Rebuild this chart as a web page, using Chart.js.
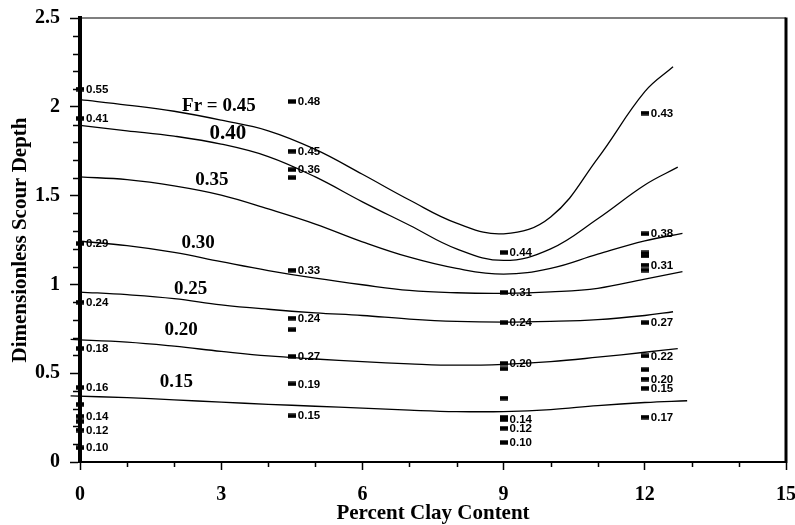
<!DOCTYPE html>
<html>
<head>
<meta charset="utf-8">
<script src="https://cdn.jsdelivr.net/npm/chart.js@4.4.1/dist/chart.umd.min.js"></script>
<style>
html,body{margin:0;padding:0;background:#fff;}
canvas{display:block;}
</style>
</head>
<body>
<canvas id="c" width="795" height="525"></canvas>
<script>
// Measured scour depths, grouped by clay content; each run is tagged with its Froude number
const clayLevels = [0, 4.5, 9, 12];
const depthAtClay0  = [2.10, 1.935, 1.23, 0.90, 0.64, 0.42, 0.325, 0.258, 0.229, 0.18, 0.08];
const frAtClay0     = ['0.55', '0.41', '0.29', '0.24', '0.18', '0.16', '', '0.14', '', '0.12', '0.10'];
const depthAtClay45 = [2.03, 1.75, 1.646, 1.601, 1.08, 0.81, 0.745, 0.595, 0.44, 0.26];
const frAtClay45    = ['0.48', '0.45', '0.36', '', '0.33', '0.24', '', '0.27', '0.19', '0.15'];
const depthAtClay9  = [1.18, 0.955, 0.785, 0.555, 0.525, 0.36, 0.252, 0.238, 0.19, 0.11];
const frAtClay9     = ['0.44', '0.31', '0.24', '0.20', '', '', '', '0.14', '0.12', '0.10'];
const depthAtClay12 = [1.965, 1.285, 1.177, 1.16, 1.109, 1.081, 0.785, 0.597, 0.52, 0.467, 0.415, 0.253];
const frAtClay12    = ['0.43', '0.38', '', '', '0.31', '', '0.27', '0.22', '', '0.20', '0.15', '0.17'];

// Constant-Froude-number curves
const curveNames = ['Fr = 0.45', '0.40', '0.35', '0.30', '0.25', '0.20', '0.15'];
const fr45Clay  = [0, 1, 2, 3, 4, 5, 6, 7, 8, 9, 10, 11, 12, 12.6];
const fr45Depth = [2.04, 2.01, 1.975, 1.925, 1.865, 1.76, 1.62, 1.475, 1.345, 1.285, 1.38, 1.71, 2.085, 2.225];
const fr40Clay  = [0, 1, 2, 3, 4, 5, 6, 7, 8, 9, 10, 11, 12, 12.7];
const fr40Depth = [1.895, 1.865, 1.835, 1.79, 1.72, 1.605, 1.465, 1.333, 1.20, 1.135, 1.20, 1.37, 1.56, 1.66];
const fr35Clay  = [0, 1, 2, 3, 4, 5, 6, 7, 8, 9, 10, 11, 12, 12.8];
const fr35Depth = [1.605, 1.59, 1.555, 1.503, 1.425, 1.34, 1.24, 1.153, 1.09, 1.058, 1.09, 1.17, 1.245, 1.287];
const fr30Clay  = [0, 1, 2, 3, 4, 5, 6, 7, 8, 9, 10, 11, 12, 12.8];
const fr30Depth = [1.243, 1.218, 1.18, 1.128, 1.078, 1.035, 0.998, 0.966, 0.953, 0.95, 0.958, 0.978, 1.03, 1.072];
const fr25Clay  = [0, 1, 2, 3, 4, 5, 6, 7, 8, 9, 10, 11, 12, 12.6];
const fr25Depth = [0.957, 0.942, 0.92, 0.885, 0.86, 0.84, 0.825, 0.805, 0.792, 0.788, 0.792, 0.802, 0.825, 0.846];
const fr20Clay  = [-0.2, 1, 2, 3, 4, 5, 6, 7, 8, 9, 10, 11, 12, 12.7];
const fr20Depth = [0.69, 0.675, 0.652, 0.623, 0.597, 0.58, 0.565, 0.553, 0.545, 0.55, 0.565, 0.59, 0.618, 0.638];
const fr15Clay  = [-0.2, 1, 2, 3, 4, 5, 6, 7, 8, 9, 10, 11, 12, 12.9];
const fr15Depth = [0.372, 0.362, 0.35, 0.337, 0.325, 0.314, 0.303, 0.292, 0.284, 0.284, 0.295, 0.318, 0.335, 0.345];

const xTickStep = 3;
const yTickStep = 0.5;

// ---- build chart structures ----
const depthGroups = [depthAtClay0, depthAtClay45, depthAtClay9, depthAtClay12];
const frGroups = [frAtClay0, frAtClay45, frAtClay9, frAtClay12];
const runPoints = [];
const runLabels = [];
clayLevels.forEach((c, g) => {
  depthGroups[g].forEach((d, i) => {
    runPoints.push({ x: c, y: d });
    runLabels.push(frGroups[g][i]);
  });
});

const curveClay = [fr45Clay, fr40Clay, fr35Clay, fr30Clay, fr25Clay, fr20Clay, fr15Clay];
const curveDepth = [fr45Depth, fr40Depth, fr35Depth, fr30Depth, fr25Depth, fr20Depth, fr15Depth];

const curveSets = curveNames.map((name, k) => ({
  label: name,
  data: curveClay[k].map((c, i) => ({ x: c, y: curveDepth[k][i] })),
  showLine: true,
  borderColor: '#000',
  borderWidth: 1.3,
  pointRadius: 0,
  tension: 0.4,
  clip: { left: 12, right: 0, top: 0, bottom: 0 },
  order: 2
}));

// where each curve's name is written (data units)
const curveNameAnchor = [
  { x: 2.95, y: 2.003, size: 19 },
  { x: 3.14, y: 1.849, size: 21 },
  { x: 2.80, y: 1.590, size: 19 },
  { x: 2.51, y: 1.235, size: 19 },
  { x: 2.35, y: 0.972, size: 19 },
  { x: 2.15, y: 0.742, size: 19 },
  { x: 2.05, y: 0.450, size: 19 }
];

const serif = '"Liberation Serif", "Times New Roman", Times, serif';
const sans = '"Liberation Sans", Arial, Helvetica, sans-serif';

// small solid bar used as the run marker
const marker = document.createElement('canvas');
marker.width = 8;
marker.height = 5;
(function () {
  const m = marker.getContext('2d');
  m.fillStyle = '#000';
  m.fillRect(0, 0.3, 8, 4.4);
})();

const decorations = {
  id: 'decorations',
  afterDatasetsDraw(chart) {
    const { ctx, scales: { x, y } } = chart;
    ctx.save();
    // Froude number of each run, beside its marker
    const meta = chart.getDatasetMeta(0);
    ctx.fillStyle = '#000';
    ctx.font = 'bold 11.5px ' + sans;
    ctx.textAlign = 'left';
    ctx.textBaseline = 'middle';
    meta.data.forEach((pt, i) => {
      const t = runLabels[i];
      if (t) ctx.fillText(t, pt.x + 6, pt.y + 0.5);
    });
    // curve names
    ctx.textAlign = 'center';
    curveNames.forEach((name, k) => {
      const a = curveNameAnchor[k];
      ctx.font = 'bold ' + a.size + 'px ' + serif;
      ctx.fillText(name, x.getPixelForValue(a.x), y.getPixelForValue(a.y));
    });
    ctx.restore();
  },
  afterDraw(chart) {
    const { ctx, chartArea: a, scales: { x, y } } = chart;
    ctx.save();
    ctx.strokeStyle = '#000';
    // minor ticks
    ctx.lineWidth = 1.5;
    ctx.beginPath();
    for (let v = x.min; v <= x.max; v += 1) {
      if (v % xTickStep === 0) continue;
      const px = Math.round(x.getPixelForValue(v)) + 0.5;
      ctx.moveTo(px, a.bottom);
      ctx.lineTo(px, a.bottom + 5);
    }
    for (let i = 1; i < 25; i++) {
      if (i % 5 === 0) continue;
      const py = Math.round(y.getPixelForValue(i / 10)) + 0.5;
      ctx.moveTo(a.left - 7, py);
      ctx.lineTo(a.left, py);
    }
    ctx.stroke();
    // top and right frame
    ctx.lineWidth = 1.2;
    ctx.beginPath();
    ctx.moveTo(a.left, a.top);
    ctx.lineTo(a.right, a.top);
    ctx.stroke();
    ctx.lineWidth = 3;
    ctx.beginPath();
    ctx.moveTo(a.right, a.top - 0.5);
    ctx.lineTo(a.right, a.bottom + 1);
    ctx.stroke();
    ctx.restore();
  }
};

new Chart(document.getElementById('c'), {
  type: 'scatter',
  data: {
    datasets: [
      {
        label: 'runs',
        data: runPoints,
        pointStyle: marker,
        pointRadius: 4,
        pointHoverRadius: 4,
        borderColor: '#000',
        backgroundColor: '#000',
        clip: false,
        order: 1
      },
      ...curveSets
    ]
  },
  options: {
    responsive: false,
    animation: false,
    devicePixelRatio: 1,
    layout: { padding: { left: 0, right: 9, top: 18, bottom: 0 } },
    plugins: { legend: { display: false }, tooltip: { enabled: false } },
    scales: {
      x: {
        type: 'linear',
        min: 0,
        max: 15,
        afterFit(s) { s.height = 63; s.paddingLeft = 0; s.paddingRight = 0; },
        ticks: {
          stepSize: xTickStep,
          padding: 13,
          color: '#000',
          font: { family: serif, size: 20, weight: 'bold' }
        },
        grid: { drawOnChartArea: false, drawTicks: true, tickLength: 8, tickWidth: 1.5, tickColor: '#000' },
        border: { display: true, color: '#000', width: 2 },
        title: {
          display: true,
          text: 'Percent Clay Content',
          color: '#000',
          font: { family: serif, size: 21, weight: 'bold', lineHeight: 1.1 },
          padding: { top: 0, bottom: 0 }
        }
      },
      y: {
        type: 'linear',
        min: 0,
        max: 2.5,
        afterFit(s) { s.width = 80; s.paddingTop = 0; s.paddingBottom = 0; },
        ticks: {
          stepSize: yTickStep,
          padding: 10,
          color: '#000',
          font: { family: serif, size: 20, weight: 'bold' },
          callback: (v) => String(Math.round(v * 10) / 10)
        },
        grid: { drawOnChartArea: false, drawTicks: true, tickLength: 10, tickWidth: 1.5, tickColor: '#000' },
        border: { display: true, color: '#000', width: 4 },
        title: {
          display: true,
          text: 'Dimensionless Scour Depth',
          color: '#000',
          font: { family: serif, size: 21, weight: 'bold', lineHeight: 1.2 },
          padding: { top: 8, bottom: 0 }
        }
      }
    }
  },
  plugins: [decorations]
});
</script>
</body>
</html>
